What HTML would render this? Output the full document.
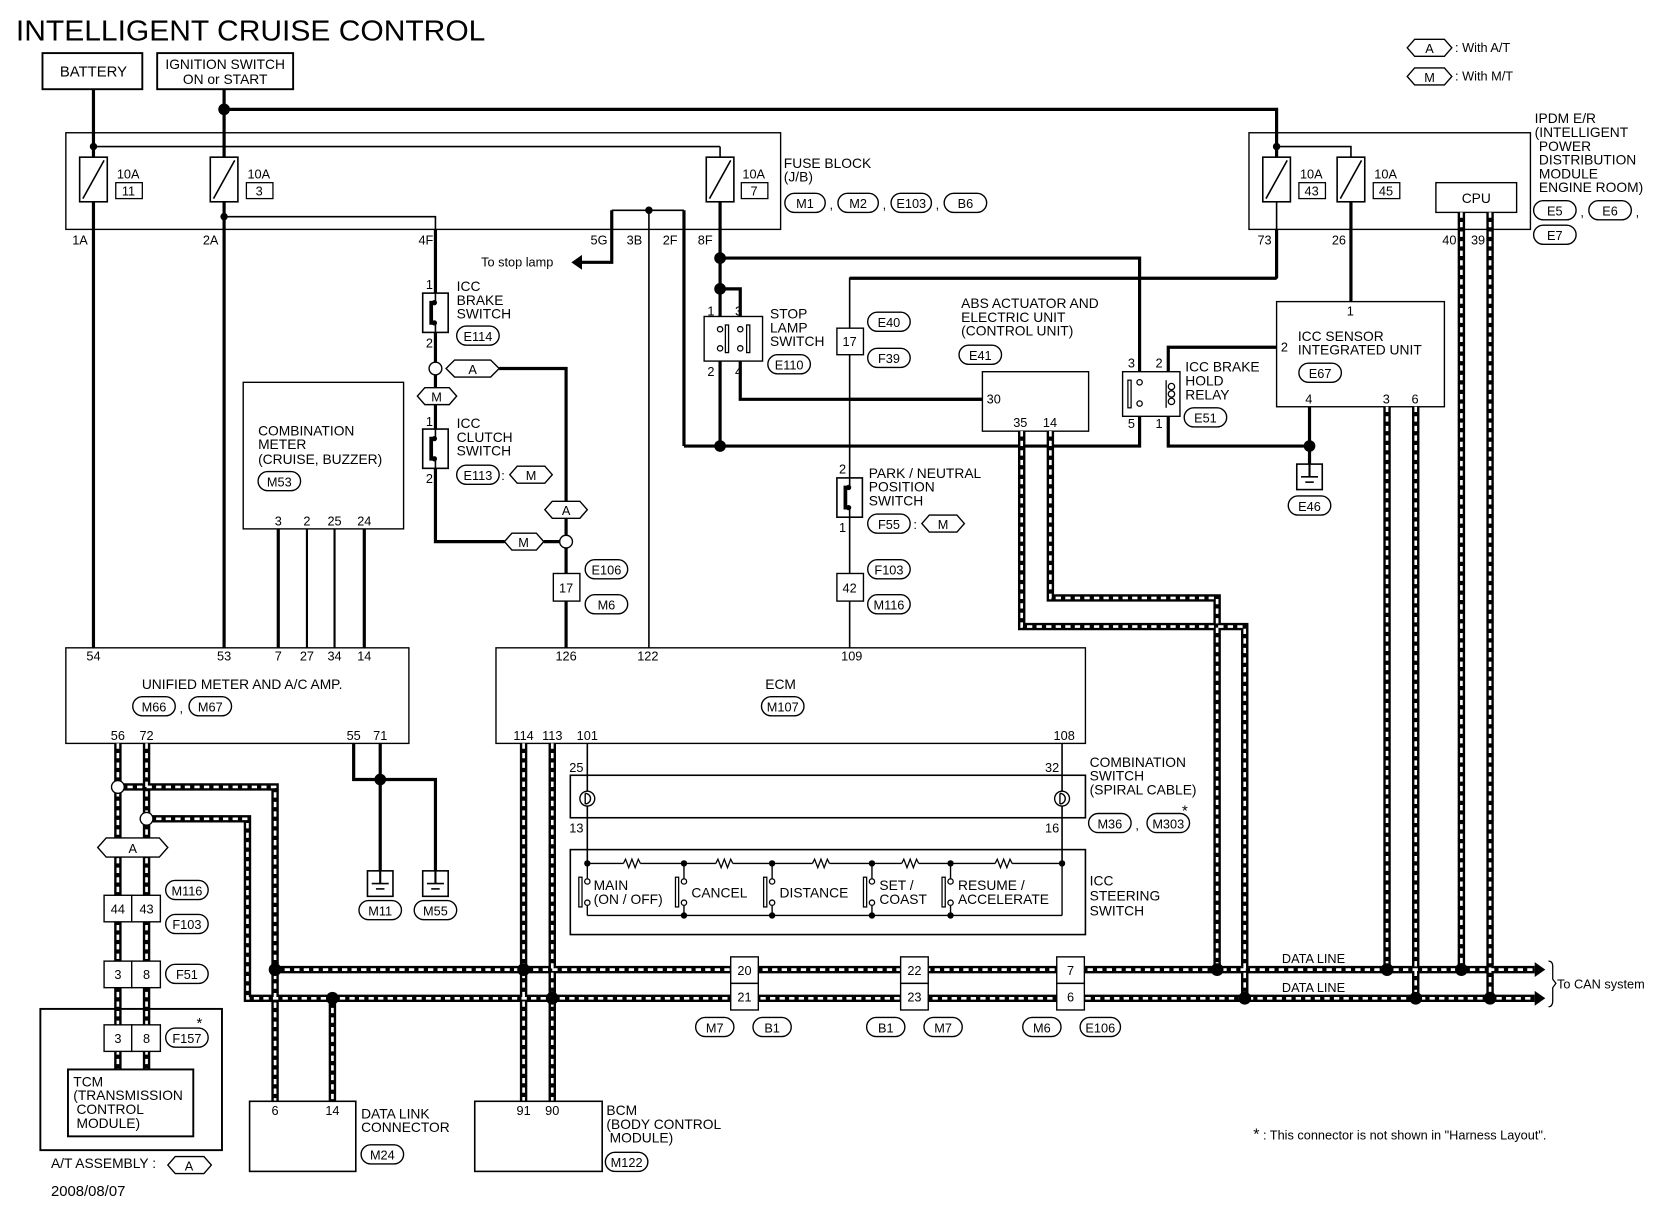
<!DOCTYPE html>
<html><head><meta charset="utf-8"><style>
html,body{margin:0;padding:0;background:#fff}
svg{display:block}
text{font-family:"Liberation Sans",sans-serif;fill:#000}
</style></head><body>
<svg width="1660" height="1216" viewBox="0 0 1563 1145" preserveAspectRatio="none" xmlns="http://www.w3.org/2000/svg">
<defs>
<g id="fuse"><rect x="-13" y="0" width="26" height="42" fill="#fff" stroke="#000" stroke-width="1.5"/><line x1="-10" y1="39" x2="10" y2="3" stroke="#000" stroke-width="1.5"/></g>
<g id="gnd"><rect x="-12" y="0" width="24" height="24" fill="#fff" stroke="#000" stroke-width="1.5"/><line x1="0" y1="0" x2="0" y2="12" stroke="#000" stroke-width="2"/><line x1="-8" y1="12" x2="8" y2="12" stroke="#000" stroke-width="1.5"/><line x1="-4" y1="17" x2="4" y2="17" stroke="#000" stroke-width="1.5"/></g>
<g id="sw"><rect x="-12" y="0" width="24" height="37" fill="#fff" stroke="#000" stroke-width="1.5"/><path d="M0 0 V9 M0 28 V37" stroke="#000" stroke-width="1.5"/><path d="M-1 9 H-4 V28 H-1" fill="none" stroke="#000" stroke-width="3.5"/><circle cx="-1" cy="9" r="2.5"/><circle cx="-1" cy="28" r="2.5"/></g>
</defs>
<g font-size="12">
<text x="15" y="38" font-size="27" textLength="442" lengthAdjust="spacingAndGlyphs">INTELLIGENT CRUISE CONTROL</text>

<!-- legend -->
<polygon points="1325,45 1332,37 1360,37 1367,45 1360,53 1332,53" fill="#fff" stroke="#000" stroke-width="1.3"/><text x="1346" y="50" text-anchor="middle" font-size="12">A</text><text x="1370" y="49" font-size="12">: With A/T</text>
<polygon points="1325,72 1332,64 1360,64 1367,72 1360,80 1332,80" fill="#fff" stroke="#000" stroke-width="1.3"/><text x="1346" y="77" text-anchor="middle" font-size="12">M</text><text x="1370" y="76" font-size="12">: With M/T</text>

<!-- top boxes -->
<rect x="40" y="50" width="94" height="34" fill="none" stroke="#000" stroke-width="1.8"/><text x="88" y="72" text-anchor="middle" font-size="14">BATTERY</text>
<rect x="148" y="50" width="128" height="34" fill="none" stroke="#000" stroke-width="1.8"/><text x="212" y="65" text-anchor="middle" font-size="13">IGNITION SWITCH</text><text x="212" y="79" text-anchor="middle" font-size="13">ON or START</text>

<!-- fuse block -->
<rect x="62" y="125" width="673" height="91" fill="none" stroke="#000" stroke-width="1.3"/>
<text x="738" y="158" font-size="13">FUSE BLOCK</text><text x="738" y="171" font-size="13">(J/B)</text>
<g fill="none" stroke="#000" stroke-width="1.3">
<rect x="739" y="182" width="38" height="18" rx="9"/><rect x="789" y="182" width="38" height="18" rx="9"/><rect x="839" y="182" width="38" height="18" rx="9"/><rect x="889" y="182" width="40" height="18" rx="9"/>
</g>
<text x="758" y="196" text-anchor="middle">M1</text><text x="781" y="197">,</text><text x="808" y="196" text-anchor="middle">M2</text><text x="831" y="197">,</text><text x="858" y="196" text-anchor="middle">E103</text><text x="881" y="197">,</text><text x="909" y="196" text-anchor="middle">B6</text>

<g stroke="#000" fill="none">
<line x1="88" y1="84" x2="88" y2="610" stroke-width="3"/>
<line x1="211" y1="84" x2="211" y2="610" stroke-width="3"/>
<polyline points="211,103 1202,103 1202,148" stroke-width="3"/>
<line x1="88" y1="138" x2="678" y2="138" stroke-width="1.5"/>
<line x1="678" y1="138" x2="678" y2="148" stroke-width="1.5"/>
<polyline points="1202,138 1272,138 1272,148" stroke-width="1.5"/>
<polyline points="211,204 410,204 410,276" stroke-width="1.5"/>
<line x1="410" y1="216" x2="410" y2="276" stroke-width="3"/>
<polyline points="576,198 644,198" stroke-width="1.5"/>
<polyline points="576,198 576,247 548,247" stroke-width="3"/>
<line x1="611" y1="198" x2="611" y2="610" stroke-width="1.5"/>
<polyline points="644,198 644,420" stroke-width="3"/>
<line x1="678" y1="190" x2="678" y2="420" stroke-width="3"/>
<polyline points="678,243 1073,243 1073,350" stroke-width="3"/>
<polyline points="1202,190 1202,262 800,262 800,610" stroke-width="1.5"/>
<line x1="1202" y1="216" x2="1202" y2="262" stroke-width="3"/>
<polyline points="1202,262 800,262" stroke-width="3"/>
<polyline points="678,272 697,272 697,298" stroke-width="3"/>
<polyline points="697,340 697,376 925,376" stroke-width="3"/>
<polyline points="644,420 1073,420 1073,392" stroke-width="3"/>
<line x1="1272" y1="190" x2="1272" y2="284" stroke-width="3"/>
<polyline points="1202,327 1100,327 1100,350" stroke-width="3"/>
<polyline points="1100,392 1100,420 1233,420" stroke-width="3"/>
<line x1="1233" y1="383" x2="1233" y2="437" stroke-width="3"/>
</g>
<polygon points="538,247 548,240 548,254" fill="#000"/>
<text x="453" y="251" font-size="12">To stop lamp</text>

<use href="#fuse" x="88" y="148"/><use href="#fuse" x="211" y="148"/><use href="#fuse" x="678" y="148"/><use href="#fuse" x="1202" y="148"/><use href="#fuse" x="1272" y="148"/>
<g font-size="12">
<text x="110" y="168">10A</text><rect x="109" y="172" width="25" height="15" fill="none" stroke="#000" stroke-width="1.2"/><text x="121" y="184" text-anchor="middle">11</text>
<text x="233" y="168">10A</text><rect x="232" y="172" width="25" height="15" fill="none" stroke="#000" stroke-width="1.2"/><text x="244" y="184" text-anchor="middle">3</text>
<text x="699" y="168">10A</text><rect x="698" y="172" width="25" height="15" fill="none" stroke="#000" stroke-width="1.2"/><text x="710" y="184" text-anchor="middle">7</text>
<text x="1224" y="168">10A</text><rect x="1223" y="172" width="25" height="15" fill="none" stroke="#000" stroke-width="1.2"/><text x="1235" y="184" text-anchor="middle">43</text>
<text x="1294" y="168">10A</text><rect x="1293" y="172" width="25" height="15" fill="none" stroke="#000" stroke-width="1.2"/><text x="1305" y="184" text-anchor="middle">45</text>
</g>
<g fill="#000"><circle cx="88" cy="138" r="3.5"/><circle cx="211" cy="103" r="5.5"/><circle cx="211" cy="204" r="3.5"/><circle cx="611" cy="198" r="3.5"/><circle cx="1202" cy="138" r="3.5"/>
<circle cx="678" cy="243" r="5.5"/><circle cx="678" cy="272" r="5.5"/><circle cx="678" cy="420" r="5.5"/><circle cx="1233" cy="420" r="5.5"/></g>
<g font-size="12"><text x="68" y="230">1A</text><text x="191" y="230">2A</text><text x="394" y="230">4F</text><text x="556" y="230">5G</text><text x="590" y="230">3B</text><text x="624" y="230">2F</text><text x="657" y="230">8F</text>
<text x="1184" y="230">73</text><text x="1254" y="230">26</text><text x="1358" y="230">40</text><text x="1385" y="230">39</text></g>

<!-- IPDM -->
<rect x="1176" y="125" width="265" height="91" fill="none" stroke="#000" stroke-width="1.3"/>
<rect x="1352" y="172" width="76" height="28" fill="#fff" stroke="#000" stroke-width="1.3"/><text x="1390" y="191" text-anchor="middle" font-size="13">CPU</text>
<g font-size="13"><text x="1445" y="116">IPDM E/R</text><text x="1445" y="129">(INTELLIGENT</text><text x="1449" y="142">POWER</text><text x="1449" y="155">DISTRIBUTION</text><text x="1449" y="168">MODULE</text><text x="1449" y="181">ENGINE ROOM)</text></g>
<g fill="none" stroke="#000" stroke-width="1.3"><rect x="1444" y="189" width="40" height="18" rx="9"/><rect x="1496" y="189" width="40" height="18" rx="9"/><rect x="1444" y="212" width="40" height="18" rx="9"/></g>
<text x="1464" y="203" text-anchor="middle">E5</text><text x="1488" y="204">,</text><text x="1516" y="203" text-anchor="middle">E6</text><text x="1540" y="204">,</text><text x="1464" y="226" text-anchor="middle">E7</text>

<!-- ICC brake & clutch switches -->
<use href="#sw" x="410" y="276"/>
<text x="401" y="272">1</text><text x="401" y="327">2</text>
<g font-size="13"><text x="430" y="274">ICC</text><text x="430" y="287">BRAKE</text><text x="430" y="300">SWITCH</text></g>
<rect x="430" y="307" width="40" height="18" rx="9" fill="none" stroke="#000" stroke-width="1.3"/><text x="450" y="321" text-anchor="middle">E114</text>
<g stroke="#000" fill="none" stroke-width="3">
<line x1="410" y1="313" x2="410" y2="404"/>
<polyline points="410,441 410,510 475,510"/>
<polyline points="470,347 533,347 533,472"/>
<line x1="533" y1="488" x2="533" y2="610"/>
</g>
<line x1="512" y1="510" x2="533" y2="510" stroke="#000" stroke-width="3"/>
<circle cx="410" cy="347" r="6" fill="#fff" stroke="#000" stroke-width="1.3"/>
<circle cx="533" cy="510" r="6" fill="#fff" stroke="#000" stroke-width="1.3"/>
<g fill="#fff" stroke="#000" stroke-width="1.3">
<polygon points="420,347 428,339 462,339 470,347 462,355 428,355"/>
<polygon points="393,373 400,365 423,365 430,373 423,381 400,381"/>
<polygon points="480,447 487,439 513,439 520,447 513,455 487,455"/>
<polygon points="513,480 520,472 546,472 553,480 546,488 520,488"/>
<polygon points="475,510 482,502 505,502 512,510 505,518 482,518"/>
<polygon points="868,493 875,485 901,485 908,493 901,501 875,501"/>
</g>
<text x="445" y="352" text-anchor="middle">A</text><text x="411" y="378" text-anchor="middle">M</text><text x="500" y="452" text-anchor="middle">M</text><text x="533" y="485" text-anchor="middle">A</text><text x="493" y="515" text-anchor="middle">M</text><text x="888" y="498" text-anchor="middle">M</text>
<use href="#sw" x="410" y="404"/>
<text x="401" y="401">1</text><text x="401" y="455">2</text>
<g font-size="13"><text x="430" y="403">ICC</text><text x="430" y="416">CLUTCH</text><text x="430" y="429">SWITCH</text></g>
<rect x="430" y="438" width="40" height="18" rx="9" fill="none" stroke="#000" stroke-width="1.3"/><text x="450" y="452" text-anchor="middle">E113</text><text x="472" y="452">:</text>

<rect x="521" y="540" width="25" height="26" fill="#fff" stroke="#000" stroke-width="1.3"/><text x="533" y="558" text-anchor="middle">17</text>
<g fill="none" stroke="#000" stroke-width="1.3"><rect x="551" y="527" width="40" height="18" rx="9"/><rect x="551" y="560" width="40" height="18" rx="9"/></g>
<text x="571" y="541" text-anchor="middle">E106</text><text x="571" y="574" text-anchor="middle">M6</text>

<!-- combination meter -->
<rect x="229" y="360" width="151" height="138" fill="#fff" stroke="#000" stroke-width="1.3"/>
<g font-size="13"><text x="243" y="410">COMBINATION</text><text x="243" y="423">METER</text><text x="243" y="437">(CRUISE, BUZZER)</text></g>
<rect x="243" y="444" width="40" height="18" rx="9" fill="none" stroke="#000" stroke-width="1.3"/><text x="263" y="458" text-anchor="middle">M53</text>
<text x="262" y="495" text-anchor="middle">3</text><text x="289" y="495" text-anchor="middle">2</text><text x="315" y="495" text-anchor="middle">25</text><text x="343" y="495" text-anchor="middle">24</text>
<g stroke="#000"><line x1="262" y1="498" x2="262" y2="610" stroke-width="3"/><line x1="289" y1="498" x2="289" y2="610" stroke-width="2"/><line x1="315" y1="498" x2="315" y2="610" stroke-width="2"/><line x1="343" y1="498" x2="343" y2="610" stroke-width="3"/></g>

<!-- stop lamp switch -->
<rect x="663" y="298" width="55" height="42" fill="#fff" stroke="#000" stroke-width="1.3"/>
<g fill="#fff" stroke="#000" stroke-width="1.2"><circle cx="678" cy="310" r="2.5"/><circle cx="678" cy="328" r="2.5"/><circle cx="697" cy="310" r="2.5"/><circle cx="697" cy="328" r="2.5"/><rect x="683" y="306" width="3" height="26"/><rect x="703" y="306" width="3" height="26"/></g>
<text x="666" y="297">1</text><text x="692" y="297">3</text><text x="666" y="354">2</text><text x="692" y="354">4</text>
<g font-size="13"><text x="725" y="300">STOP</text><text x="725" y="313">LAMP</text><text x="725" y="326">SWITCH</text></g>
<rect x="723" y="334" width="40" height="18" rx="9" fill="none" stroke="#000" stroke-width="1.3"/><text x="743" y="348" text-anchor="middle">E110</text>

<!-- 800 line items -->
<rect x="788" y="309" width="25" height="25" fill="#fff" stroke="#000" stroke-width="1.3"/><text x="800" y="326" text-anchor="middle">17</text>
<g fill="none" stroke="#000" stroke-width="1.3"><rect x="817" y="294" width="40" height="18" rx="9"/><rect x="817" y="328" width="40" height="18" rx="9"/><rect x="817" y="484" width="40" height="18" rx="9"/><rect x="817" y="527" width="40" height="18" rx="9"/><rect x="817" y="560" width="40" height="18" rx="9"/></g>
<text x="837" y="308" text-anchor="middle">E40</text><text x="837" y="342" text-anchor="middle">F39</text><text x="837" y="498" text-anchor="middle">F55</text><text x="860" y="498">:</text><text x="837" y="541" text-anchor="middle">F103</text><text x="837" y="574" text-anchor="middle">M116</text>
<use href="#sw" x="800" y="450"/>
<text x="790" y="446">2</text><text x="790" y="501">1</text>
<g font-size="13"><text x="818" y="450">PARK / NEUTRAL</text><text x="818" y="463">POSITION</text><text x="818" y="476">SWITCH</text></g>
<rect x="788" y="540" width="25" height="26" fill="#fff" stroke="#000" stroke-width="1.3"/><text x="800" y="558" text-anchor="middle">42</text>

<!-- ABS -->
<g font-size="13"><text x="905" y="290">ABS ACTUATOR AND</text><text x="905" y="303">ELECTRIC UNIT</text><text x="905" y="316">(CONTROL UNIT)</text></g>
<rect x="903" y="325" width="40" height="18" rx="9" fill="none" stroke="#000" stroke-width="1.3"/><text x="923" y="339" text-anchor="middle">E41</text>
<rect x="925" y="350" width="100" height="56" fill="#fff" stroke="#000" stroke-width="1.3"/>
<text x="929" y="380">30</text><text x="954" y="402">35</text><text x="982" y="402">14</text>
<line x1="800" y1="376" x2="925" y2="376" stroke="#000" stroke-width="3"/>

<!-- relay -->
<rect x="1057" y="350" width="54" height="42" fill="#fff" stroke="#000" stroke-width="1.3"/>
<text x="1062" y="346">3</text><text x="1088" y="346">2</text><text x="1062" y="403">5</text><text x="1088" y="403">1</text>
<g fill="#fff" stroke="#000" stroke-width="1.2"><rect x="1062" y="358" width="3" height="26"/><circle cx="1073" cy="360" r="2.5"/><circle cx="1073" cy="380" r="2.5"/><circle cx="1103" cy="364" r="3"/><circle cx="1103" cy="371" r="3"/><circle cx="1103" cy="378" r="3"/></g>
<line x1="1098" y1="358" x2="1098" y2="384" stroke="#000" stroke-width="1.2"/>
<g font-size="13"><text x="1116" y="350">ICC BRAKE</text><text x="1116" y="363">HOLD</text><text x="1116" y="376">RELAY</text></g>
<rect x="1115" y="384" width="40" height="18" rx="9" fill="none" stroke="#000" stroke-width="1.3"/><text x="1135" y="398" text-anchor="middle">E51</text>

<!-- ICC sensor -->
<rect x="1202" y="284" width="158" height="99" fill="#fff" stroke="#000" stroke-width="1.3"/>
<text x="1268" y="297">1</text><text x="1206" y="331">2</text>
<g font-size="13"><text x="1222" y="321">ICC SENSOR</text><text x="1222" y="334">INTEGRATED UNIT</text></g>
<rect x="1223" y="342" width="40" height="18" rx="9" fill="none" stroke="#000" stroke-width="1.3"/><text x="1243" y="356" text-anchor="middle">E67</text>
<text x="1229" y="380">4</text><text x="1302" y="380">3</text><text x="1329" y="380">6</text>
<use href="#gnd" x="1233" y="437"/>
<rect x="1213" y="467" width="40" height="18" rx="9" fill="none" stroke="#000" stroke-width="1.3"/><text x="1233" y="481" text-anchor="middle">E46</text>

<!-- unified meter -->
<rect x="62" y="610" width="323" height="90" fill="#fff" stroke="#000" stroke-width="1.3"/>
<g><text x="88" y="622" text-anchor="middle">54</text><text x="211" y="622" text-anchor="middle">53</text><text x="262" y="622" text-anchor="middle">7</text><text x="289" y="622" text-anchor="middle">27</text><text x="315" y="622" text-anchor="middle">34</text><text x="343" y="622" text-anchor="middle">14</text></g>
<text x="228" y="649" text-anchor="middle" font-size="13">UNIFIED METER AND A/C AMP.</text>
<g fill="none" stroke="#000" stroke-width="1.3"><rect x="125" y="656" width="40" height="18" rx="9"/><rect x="178" y="656" width="40" height="18" rx="9"/></g>
<text x="145" y="670" text-anchor="middle">M66</text><text x="169" y="671">,</text><text x="198" y="670" text-anchor="middle">M67</text>
<text x="111" y="697" text-anchor="middle">56</text><text x="138" y="697" text-anchor="middle">72</text><text x="333" y="697" text-anchor="middle">55</text><text x="358" y="697" text-anchor="middle">71</text>
<g stroke="#000" fill="none" stroke-width="3"><polyline points="333,700 333,734 410,734 410,820"/><line x1="358" y1="700" x2="358" y2="820"/></g>
<circle cx="358" cy="734" r="5.5"/>
<use href="#gnd" x="358" y="820"/><use href="#gnd" x="410" y="820"/>
<g fill="none" stroke="#000" stroke-width="1.3"><rect x="338" y="848" width="40" height="18" rx="9"/><rect x="390" y="848" width="40" height="18" rx="9"/></g>
<text x="358" y="862" text-anchor="middle">M11</text><text x="410" y="862" text-anchor="middle">M55</text>

<!-- ECM -->
<rect x="467" y="610" width="555" height="90" fill="#fff" stroke="#000" stroke-width="1.3"/>
<text x="533" y="622" text-anchor="middle">126</text><text x="610" y="622" text-anchor="middle">122</text><text x="802" y="622" text-anchor="middle">109</text>
<text x="735" y="649" text-anchor="middle" font-size="13">ECM</text>
<rect x="717" y="656" width="40" height="18" rx="9" fill="none" stroke="#000" stroke-width="1.3"/><text x="737" y="670" text-anchor="middle">M107</text>
<text x="493" y="697" text-anchor="middle">114</text><text x="520" y="697" text-anchor="middle">113</text><text x="553" y="697" text-anchor="middle">101</text><text x="1002" y="697" text-anchor="middle">108</text>

<!-- combination switch -->
<g stroke="#000" fill="none" stroke-width="1.5"><line x1="553" y1="700" x2="553" y2="813"/><line x1="1000" y1="700" x2="1000" y2="813"/></g>
<rect x="537" y="730" width="485" height="40" fill="none" stroke="#000" stroke-width="1.5"/>
<g fill="#fff" stroke="#000" stroke-width="1.3"><circle cx="553" cy="752" r="7"/><circle cx="1000" cy="752" r="7"/></g>
<g stroke="#000" fill="none" stroke-width="1.3"><path d="M551 747 V757 M551 747 A5 5 0 0 1 551 757"/><path d="M998 747 V757 M998 747 A5 5 0 0 1 998 757"/></g>
<text x="536" y="727">25</text><text x="984" y="727">32</text><text x="536" y="784">13</text><text x="984" y="784">16</text>
<g font-size="13"><text x="1026" y="722">COMBINATION</text><text x="1026" y="735">SWITCH</text><text x="1026" y="748">(SPIRAL CABLE)</text></g>
<g fill="none" stroke="#000" stroke-width="1.3"><rect x="1025" y="766" width="40" height="18" rx="9"/><rect x="1080" y="766" width="40" height="18" rx="9"/></g>
<text x="1045" y="780" text-anchor="middle">M36</text><text x="1069" y="781">,</text><text x="1100" y="780" text-anchor="middle">M303</text><text x="1113" y="768" font-size="14">*</text>

<!-- steering switch -->
<rect x="537" y="800" width="485" height="80" fill="none" stroke="#000" stroke-width="1.5"/>
<g stroke="#000" fill="none" stroke-width="1.3">
<line x1="553" y1="813" x2="587" y2="813"/><line x1="603" y1="813" x2="674" y2="813"/><line x1="690" y1="813" x2="765" y2="813"/><line x1="781" y1="813" x2="849" y2="813"/><line x1="865" y1="813" x2="937" y2="813"/><line x1="953" y1="813" x2="1000" y2="813"/>
<line x1="553" y1="862" x2="1000" y2="862"/>
</g>
<g stroke="#000" fill="none" stroke-width="1.2">
<polyline points="587,813 589,809 592,817 595,809 598,817 601,809 603,813"/>
<polyline points="674,813 676,809 679,817 682,809 685,817 688,809 690,813"/>
<polyline points="765,813 767,809 770,817 773,809 776,817 779,809 781,813"/>
<polyline points="849,813 851,809 854,817 857,809 860,817 863,809 865,813"/>
<polyline points="937,813 939,809 942,817 945,809 948,817 951,809 953,813"/>
</g>
<g stroke="#000" stroke-width="1.2" fill="#fff">
<rect x="545" y="826" width="3" height="28"/><circle cx="553" cy="830" r="2.5"/><circle cx="553" cy="850" r="2.5"/>
<rect x="636" y="826" width="3" height="28"/><circle cx="644" cy="830" r="2.5"/><circle cx="644" cy="850" r="2.5"/>
<rect x="719" y="826" width="3" height="28"/><circle cx="727" cy="830" r="2.5"/><circle cx="727" cy="850" r="2.5"/>
<rect x="813" y="826" width="3" height="28"/><circle cx="821" cy="830" r="2.5"/><circle cx="821" cy="850" r="2.5"/>
<rect x="887" y="826" width="3" height="28"/><circle cx="895" cy="830" r="2.5"/><circle cx="895" cy="850" r="2.5"/>
</g>
<g stroke="#000" stroke-width="1.3">
<line x1="553" y1="813" x2="553" y2="827"/><line x1="553" y1="853" x2="553" y2="862"/>
<line x1="644" y1="813" x2="644" y2="827"/><line x1="644" y1="853" x2="644" y2="862"/>
<line x1="727" y1="813" x2="727" y2="827"/><line x1="727" y1="853" x2="727" y2="862"/>
<line x1="821" y1="813" x2="821" y2="827"/><line x1="821" y1="853" x2="821" y2="862"/>
<line x1="895" y1="813" x2="895" y2="827"/><line x1="895" y1="853" x2="895" y2="862"/>
<line x1="1000" y1="813" x2="1000" y2="862"/>
</g>
<g fill="#000"><circle cx="553" cy="813" r="3"/><circle cx="644" cy="813" r="3"/><circle cx="727" cy="813" r="3"/><circle cx="821" cy="813" r="3"/><circle cx="895" cy="813" r="3"/><circle cx="1000" cy="813" r="3"/>
<circle cx="644" cy="862" r="3"/><circle cx="727" cy="862" r="3"/><circle cx="821" cy="862" r="3"/><circle cx="895" cy="862" r="3"/></g>
<g font-size="13"><text x="559" y="838">MAIN</text><text x="559" y="851">(ON / OFF)</text><text x="651" y="845">CANCEL</text><text x="734" y="845">DISTANCE</text><text x="828" y="838">SET /</text><text x="828" y="851">COAST</text><text x="902" y="838">RESUME /</text><text x="902" y="851">ACCELERATE</text>
<text x="1026" y="834">ICC</text><text x="1026" y="848">STEERING</text><text x="1026" y="862">SWITCH</text></g>

<!-- data lines -->
<g fill="none" stroke="#000" stroke-width="7">
<polyline points="111,700 111,1007"/><polyline points="138,700 138,1007"/>
<polyline points="111,741 259,741 259,1037"/>
<polyline points="138,771 233,771 233,940 1445,940"/>
<polyline points="259,913 1445,913"/>
<line x1="313" y1="940" x2="313" y2="1037"/>
<line x1="493" y1="700" x2="493" y2="1037"/><line x1="520" y1="700" x2="520" y2="1037"/>
<polyline points="962,406 962,590 1172,590 1172,940"/>
<polyline points="989,406 989,563 1146,563 1146,913"/>
<line x1="1306" y1="383" x2="1306" y2="913"/><line x1="1333" y1="383" x2="1333" y2="940"/>
<line x1="1376" y1="200" x2="1376" y2="913"/><line x1="1403" y1="200" x2="1403" y2="940"/>
</g>
<g fill="none" stroke="#fff" stroke-width="2.5" stroke-dasharray="5 4">
<polyline points="111,700 111,1007"/><polyline points="138,700 138,1007"/>
<polyline points="111,741 259,741 259,1037"/>
<polyline points="138,771 233,771 233,940 1445,940"/>
<polyline points="259,913 1445,913"/>
<line x1="313" y1="940" x2="313" y2="1037"/>
<line x1="493" y1="700" x2="493" y2="1037"/><line x1="520" y1="700" x2="520" y2="1037"/>
<polyline points="962,406 962,590 1172,590 1172,940"/>
<polyline points="989,406 989,563 1146,563 1146,913"/>
<line x1="1306" y1="383" x2="1306" y2="913"/><line x1="1333" y1="383" x2="1333" y2="940"/>
<line x1="1376" y1="200" x2="1376" y2="913"/><line x1="1403" y1="200" x2="1403" y2="940"/>
</g>
<g fill="#000">
<polygon points="1445,906 1455,913 1445,920"/><polygon points="1445,933 1455,940 1445,947"/>
<circle cx="259" cy="913" r="6"/><circle cx="313" cy="940" r="6"/><circle cx="493" cy="913" r="6"/><circle cx="520" cy="940" r="6"/>
<circle cx="1146" cy="913" r="6"/><circle cx="1172" cy="940" r="6"/><circle cx="1306" cy="913" r="6"/><circle cx="1333" cy="940" r="6"/><circle cx="1376" cy="913" r="6"/><circle cx="1403" cy="940" r="6"/>
</g>
<g fill="#fff" stroke="#000" stroke-width="1.3"><circle cx="111" cy="741" r="6"/><circle cx="138" cy="771" r="6"/></g>
<path d="M1458 905 Q1462 905 1462 910 V922 L1465 926 L1462 930 V942 Q1462 948 1458 948" fill="none" stroke="#000" stroke-width="1.2"/>
<text x="1466" y="931" font-size="12">To CAN system</text>
<text x="1207" y="907" font-size="12">DATA LINE</text><text x="1207" y="934" font-size="12">DATA LINE</text>

<g fill="#fff" stroke="#000" stroke-width="1.3">
<rect x="688" y="901" width="26" height="25"/><rect x="688" y="926" width="26" height="25"/>
<rect x="848" y="901" width="26" height="25"/><rect x="848" y="926" width="26" height="25"/>
<rect x="995" y="901" width="26" height="25"/><rect x="995" y="926" width="26" height="25"/>
</g>
<text x="701" y="918" text-anchor="middle">20</text><text x="701" y="943" text-anchor="middle">21</text><text x="861" y="918" text-anchor="middle">22</text><text x="861" y="943" text-anchor="middle">23</text><text x="1008" y="918" text-anchor="middle">7</text><text x="1008" y="943" text-anchor="middle">6</text>
<g fill="none" stroke="#000" stroke-width="1.3"><rect x="655" y="958" width="36" height="18" rx="9"/><rect x="709" y="958" width="36" height="18" rx="9"/><rect x="816" y="958" width="36" height="18" rx="9"/><rect x="870" y="958" width="36" height="18" rx="9"/><rect x="963" y="958" width="36" height="18" rx="9"/><rect x="1017" y="958" width="38" height="18" rx="9"/></g>
<text x="673" y="972" text-anchor="middle">M7</text><text x="727" y="972" text-anchor="middle">B1</text><text x="834" y="972" text-anchor="middle">B1</text><text x="888" y="972" text-anchor="middle">M7</text><text x="981" y="972" text-anchor="middle">M6</text><text x="1036" y="972" text-anchor="middle">E106</text>

<!-- left column connectors -->
<polygon points="92,798 100,789 150,789 158,798 150,807 100,807" fill="#fff" stroke="#000" stroke-width="1.3"/><text x="125" y="803" text-anchor="middle">A</text>
<g fill="#fff" stroke="#000" stroke-width="1.3">
<rect x="98" y="843" width="26" height="25"/><rect x="124" y="843" width="27" height="25"/>
<rect x="98" y="905" width="26" height="25"/><rect x="124" y="905" width="27" height="25"/>
</g>
<text x="111" y="860" text-anchor="middle">44</text><text x="138" y="860" text-anchor="middle">43</text><text x="111" y="922" text-anchor="middle">3</text><text x="138" y="922" text-anchor="middle">8</text>
<g fill="none" stroke="#000" stroke-width="1.3"><rect x="156" y="829" width="40" height="18" rx="9"/><rect x="156" y="861" width="40" height="18" rx="9"/><rect x="156" y="908" width="40" height="18" rx="9"/><rect x="156" y="968" width="40" height="18" rx="9"/></g>
<text x="176" y="843" text-anchor="middle">M116</text><text x="176" y="875" text-anchor="middle">F103</text><text x="176" y="922" text-anchor="middle">F51</text><text x="176" y="982" text-anchor="middle">F157</text><text x="185" y="968" font-size="14">*</text>
<rect x="38" y="950" width="171" height="133" fill="none" stroke="#000" stroke-width="1.8"/>
<g fill="#fff" stroke="#000" stroke-width="1.3"><rect x="98" y="965" width="26" height="25"/><rect x="124" y="965" width="27" height="25"/></g>
<text x="111" y="982" text-anchor="middle">3</text><text x="138" y="982" text-anchor="middle">8</text>
<rect x="64" y="1007" width="118" height="63" fill="#fff" stroke="#000" stroke-width="1.8"/>
<g font-size="13"><text x="69" y="1023">TCM</text><text x="69" y="1036">(TRANSMISSION</text><text x="72" y="1049">CONTROL</text><text x="72" y="1062">MODULE)</text></g>
<text x="48" y="1100" font-size="13">A/T ASSEMBLY :</text>
<polygon points="158,1097 165,1089 192,1089 199,1097 192,1105 165,1105" fill="#fff" stroke="#000" stroke-width="1.3"/><text x="178" y="1102" text-anchor="middle">A</text>
<text x="48" y="1126" font-size="14">2008/08/07</text>

<!-- DLC / BCM -->
<rect x="235" y="1037" width="100" height="66" fill="#fff" stroke="#000" stroke-width="1.5"/>
<text x="259" y="1050" text-anchor="middle">6</text><text x="313" y="1050" text-anchor="middle">14</text>
<g font-size="13"><text x="340" y="1053">DATA LINK</text><text x="340" y="1066">CONNECTOR</text></g>
<rect x="340" y="1078" width="40" height="18" rx="9" fill="none" stroke="#000" stroke-width="1.3"/><text x="360" y="1092" text-anchor="middle">M24</text>
<rect x="447" y="1037" width="120" height="66" fill="#fff" stroke="#000" stroke-width="1.5"/>
<text x="493" y="1050" text-anchor="middle">91</text><text x="520" y="1050" text-anchor="middle">90</text>
<g font-size="13"><text x="571" y="1050">BCM</text><text x="571" y="1063">(BODY CONTROL</text><text x="574" y="1076">MODULE)</text></g>
<rect x="570" y="1085" width="40" height="18" rx="9" fill="none" stroke="#000" stroke-width="1.3"/><text x="590" y="1099" text-anchor="middle">M122</text>

<text x="1180" y="1073" font-size="12"><tspan font-size="15">*</tspan> : This connector is not shown in "Harness Layout".</text>
</g>
</svg>
</body></html>
